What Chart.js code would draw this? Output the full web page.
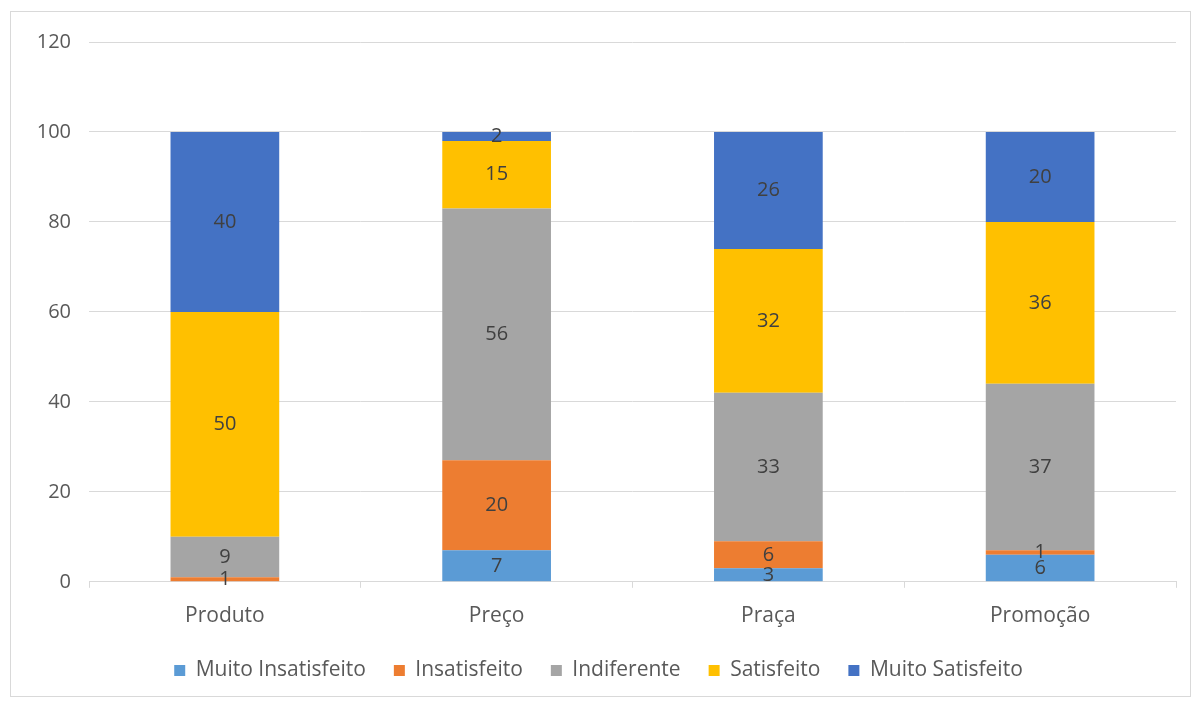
<!DOCTYPE html>
<html>
<head>
<meta charset="utf-8">
<script src="https://cdn.jsdelivr.net/npm/chart.js@4/dist/chart.umd.min.js"></script>
<style>
  body { margin: 0; background: #fff; }
  #box { position: absolute; left: 10px; top: 11px; width: 1179px; height: 684px; border: 1px solid #d9d9d9; }
</style>
</head>
<body>
<div id="box"><canvas id="myChart" width="1179" height="684"></canvas></div>
<script>
const categories = ["Produto", "Preço", "Praça", "Promoção"];
const muitoInsatisfeito = [0, 7, 3, 6];
const insatisfeito = [1, 20, 6, 1];
const indiferente = [9, 56, 33, 37];
const satisfeito = [50, 15, 32, 36];
const muitoSatisfeito = [40, 2, 26, 20];

const FONT = "'Open Sans', sans-serif";

// draws the value in the middle of each segment, skips zeros
const barLabels = {
  id: "barLabels",
  afterDatasetsDraw(chart) {
    const ctx = chart.ctx;
    ctx.save();
    ctx.font = "20px " + FONT;
    ctx.fillStyle = "#404040";
    ctx.textAlign = "center";
    ctx.textBaseline = "middle";
    chart.data.datasets.forEach((ds, i) => {
      chart.getDatasetMeta(i).data.forEach((bar, j) => {
        const v = ds.data[j];
        if (!v) return;
        ctx.fillText(v, bar.x, (bar.y + bar.base) / 2);
      });
    });
    ctx.restore();
  },
};

function ds(label, data, color) {
  return { label: label, data: data, backgroundColor: color, borderWidth: 0 };
}

new Chart(document.getElementById("myChart").getContext("2d"), {
  type: "bar",
  data: {
    labels: categories,
    datasets: [
      ds("Muito Insatisfeito", muitoInsatisfeito, "#5b9bd5"),
      ds("Insatisfeito", insatisfeito, "#ed7d31"),
      ds("Indiferente", indiferente, "#a5a5a5"),
      ds("Satisfeito", satisfeito, "#ffc000"),
      ds("Muito Satisfeito", muitoSatisfeito, "#4472c4"),
    ],
  },
  options: {
    responsive: false,
    animation: false,
    layout: { padding: { left: 10, right: 14, top: 22, bottom: 5 } },
    datasets: { bar: { categoryPercentage: 1, barPercentage: 0.4 } },
    plugins: {
      legend: {
        position: "bottom",
        labels: {
          font: { family: FONT, size: 21 },
          color: "#595959",
          boxWidth: 11,
          boxHeight: 11,
          padding: 28,
        },
      },
      tooltip: { enabled: false },
    },
    scales: {
      x: {
        stacked: true,
        grid: { drawOnChartArea: false, drawTicks: true, tickLength: 6, color: "#d9d9d9", offset: true },
        border: { color: "#d9d9d9" },
        ticks: { font: { family: FONT, size: 21 }, color: "#595959", padding: 16 },
        afterFit(scale) { scale.height -= 13; },
      },
      y: {
        stacked: true,
        min: 0,
        max: 120,
        ticks: { stepSize: 20, font: { family: FONT, size: 20 }, color: "#595959", padding: 18 },
        grid: { color: "#d9d9d9", drawTicks: false },
        border: { display: false },
        afterFit(scale) { scale.width = 68; },
      },
    },
  },
  plugins: [barLabels],
});
</script>
</body>
</html>
